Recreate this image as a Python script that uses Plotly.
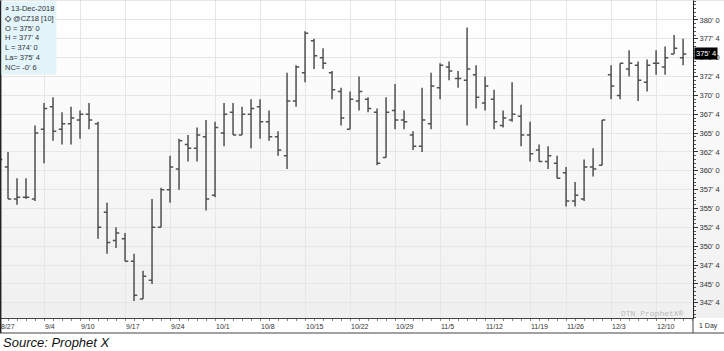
import plotly.graph_objects as go

# ---------------- data (Dec-18 corn, daily bars, cents/bu) ----------------
dates = [
    "8/27", "8/28", "8/29", "8/30", "8/31",
    "9/4", "9/5", "9/6", "9/7",
    "9/10", "9/11", "9/12", "9/13", "9/14",
    "9/17", "9/18", "9/19", "9/20", "9/21",
    "9/24", "9/25", "9/26", "9/27", "9/28",
    "10/1", "10/2", "10/3", "10/4", "10/5",
    "10/8", "10/9", "10/10", "10/11", "10/12",
    "10/15", "10/16", "10/17", "10/18", "10/19",
    "10/22", "10/23", "10/24", "10/25", "10/26",
    "10/29", "10/30", "10/31", "11/1", "11/2",
    "11/5", "11/6", "11/7", "11/8", "11/9",
    "11/12", "11/13", "11/14", "11/15", "11/16",
    "11/19", "11/20", "11/21", "11/23",
    "11/26", "11/27", "11/28", "11/29", "11/30",
    "12/3", "12/4", "12/5", "12/6", "12/7",
    "12/10", "12/11", "12/12", "12/13",
]
opens = [
    361.5, 360.5, 356.25, 356.5, 356.25,
    365.5, 368.5, 365.5, 366.25,
    366.75, 367.5, 366.25, 354.5, 350.75,
    351.0, 348.0, 343.0, 345.5, 352.5,
    357.5, 360.25, 363.5, 363.0, 364.5,
    356.75, 365.0, 367.75, 364.75, 367.5,
    368.5, 366.5, 364.5, 362.0, 369.25,
    373.0, 377.25, 375.0, 373.0, 370.5,
    365.5, 369.25, 369.5, 367.75, 361.75,
    368.0, 366.75, 364.75, 363.25, 366.25,
    371.0, 373.75, 372.25, 372.0, 372.75,
    369.0, 369.5, 366.0, 366.75, 367.25,
    364.75, 362.75, 361.25, 361.0,
    359.75, 356.0, 356.25, 360.5, 360.75,
    372.75, 370.0, 373.5, 374.0, 371.75,
    374.25, 373.75, 375.5, 375.0,
]
highs = [
    363.0, 362.5, 359.0, 359.0, 366.0,
    369.0, 369.75, 367.75, 368.5,
    368.0, 369.0, 366.5, 355.75, 352.5,
    351.75, 349.0, 346.75, 356.25, 357.75,
    362.0, 364.25, 364.75, 365.75, 366.75,
    366.5, 369.0, 369.0, 368.5, 369.5,
    369.5, 368.0, 365.25, 373.0, 374.0,
    378.5, 377.5, 376.25, 373.25, 371.0,
    370.5, 372.5, 369.75, 368.25, 369.75,
    371.5, 368.0, 365.25, 371.0, 373.0,
    374.25, 374.5, 373.25, 379.0, 374.0,
    372.5, 370.75, 368.0, 371.75, 368.75,
    366.5, 363.5, 363.25, 362.0,
    360.5, 358.5, 361.5, 363.0, 366.75,
    374.0, 374.25, 376.0, 374.5, 374.75,
    376.0, 376.5, 378.0, 377.5,
]
lows = [
    360.0, 356.25, 355.5, 356.25, 356.0,
    361.0, 364.0, 363.5, 363.5,
    364.25, 365.5, 351.0, 349.0, 349.75,
    348.0, 342.75, 343.0, 345.0, 352.5,
    355.75, 357.5, 361.25, 361.25, 354.75,
    356.5, 363.25, 364.75, 364.75, 363.0,
    364.25, 364.0, 362.0, 360.25, 368.5,
    371.75, 373.5, 373.5, 369.5, 366.0,
    365.5, 368.0, 367.75, 360.75, 361.75,
    365.5, 365.5, 362.75, 362.5, 365.5,
    369.5, 372.0, 371.0, 366.0, 368.25,
    368.0, 365.5, 365.75, 366.5, 363.25,
    361.25, 361.25, 360.25, 359.0,
    355.25, 355.25, 356.0, 359.25, 360.75,
    369.5, 369.5, 372.5, 369.25, 370.5,
    372.75, 372.75, 375.5, 374.0,
]
closes = [
    361.5, 356.25, 356.5, 356.5, 365.0,
    368.25, 365.25, 366.25, 367.0,
    367.5, 366.75, 352.5, 350.5, 351.75,
    348.0, 343.5, 346.0, 352.5, 357.5,
    360.5, 364.0, 363.0, 364.75, 356.25,
    365.75, 367.5, 364.75, 367.5, 368.25,
    366.5, 364.5, 362.75, 369.25, 373.75,
    378.25, 375.25, 374.25, 370.75, 367.0,
    369.5, 370.5, 368.25, 361.0, 367.75,
    366.75, 366.5, 363.25, 366.75, 371.25,
    374.0, 373.25, 372.25, 373.5, 369.75,
    371.25, 366.5, 367.0, 367.5, 364.75,
    362.25, 361.25, 362.0, 359.0,
    356.0, 356.75, 360.5, 360.25, 366.75,
    371.25, 374.25, 374.25, 372.0, 374.0,
    374.25, 375.0, 376.25, 375.5,
]
week_labels = ["8/27", "9/4", "9/10", "9/17", "9/24", "10/1", "10/8", "10/15",
               "10/22", "10/29", "11/5", "11/12", "11/19", "11/26", "12/3", "12/10"]
price_ticks = [342.5 + 2.5 * k for k in range(16)]
legend_lines = ["⌕ 13-Dec-2018", "<b>◇</b> @CZ18 [10]", "O = 375' 0", "H = 377' 4",
                "L = 374' 0", "La= 375' 4", "NC= -0' 6"]
last_price = 375.5


def fmt_price(v):
    whole = int(v)
    eighths = int(round((v - whole) * 8))
    return f"{whole}' {eighths}"


x_idx = list(range(len(dates)))
week_pos = [dates.index(w) for w in week_labels]

W, H = 724, 351
ML, MR, MT, MB = 0, 31, 0, 33
PW, PH = W - ML - MR, H - MT - MB
X0, X1 = 0.11, 77.1
UNIT = PW / (X1 - X0)


def px_x(p):  # pixel -> paper x
    return p / PW


def px_y(p):  # pixel from top -> paper y
    return 1 - p / PH


fig = go.Figure()
fig.add_trace(go.Ohlc(
    x=x_idx, open=opens, high=highs, low=lows, close=closes,
    increasing=dict(line=dict(color="#505050", width=1.5)),
    decreasing=dict(line=dict(color="#505050", width=1.5)),
    tickwidth=0.36, hoverinfo="skip", showlegend=False,
))

shapes = []
# subtle vertical gradient background (white top -> light grey bottom)
N = 40
for i in range(N):
    t = i / (N - 1)
    g = int(round(240 + (255 - 240) * t))
    shapes.append(dict(type="rect", xref="paper", yref="paper",
                       x0=0, x1=px_x(W), y0=i / N, y1=(i + 1) / N,
                       fillcolor=f"rgb({g},{g},{g})", line=dict(width=0), layer="below"))
# left border, strip bottom line, right axis extension through strip
shapes.append(dict(type="line", xref="paper", yref="paper", x0=0.001, x1=0.001, y0=px_y(PH + 15), y1=1,
                   line=dict(color="#222", width=1.5)))
shapes.append(dict(type="line", xref="paper", yref="paper", x0=0, x1=px_x(W), y0=px_y(PH + 15), y1=px_y(PH + 15),
                   line=dict(color="#444", width=1)))
shapes.append(dict(type="line", xref="paper", yref="paper", x0=1, x1=1, y0=px_y(PH + 15), y1=0,
                   line=dict(color="#444", width=1)))
shapes.append(dict(type="line", xref="paper", yref="paper", x0=0, x1=px_x(W), y0=1, y1=1,
                   line=dict(color="#cfcfcf", width=1)))

annotations = []
for w, p in zip(week_labels, week_pos):
    xa = max(p, X0 + 0.01)          # keep inside range so the label is drawn
    shift = (p - xa) * UNIT - 1     # restore true tick position in pixels
    if p < X0:
        shift = max(shift, -(X0 + 0.01 - X0) * UNIT - 1)  # keep first label inside the page
    annotations.append(dict(x=xa, xref="x", y=px_y(PH + 8), yref="paper", text=w,
                            showarrow=False, xanchor="left", yanchor="middle", xshift=shift,
                            font=dict(family="Liberation Sans", size=7, color="#333")))
annotations.append(dict(x=px_x(PW + 15), xref="paper", y=px_y(PH + 8), yref="paper", text="1 Day",
                        showarrow=False, xanchor="center", yanchor="middle",
                        font=dict(family="Liberation Sans", size=7, color="#333")))
annotations.append(dict(x=1, xref="paper", y=last_price, yref="y", text=fmt_price(last_price),
                        showarrow=False, xanchor="left", yanchor="middle", xshift=1,
                        bgcolor="#000", borderpad=1,
                        font=dict(family="Liberation Sans", size=7.5, color="#fff")))
annotations.append(dict(x=px_x(PW - 7), xref="paper", y=px_y(PH - 5), yref="paper", text="DTN ProphetX®",
                        showarrow=False, xanchor="right", yanchor="middle",
                        font=dict(family="Liberation Mono", size=8, color="#b8b8b8")))
annotations.append(dict(x=0.001, xref="paper", y=px_y(PH + 24), yref="paper",
                        text="<i>Source: Prophet X</i>", showarrow=False,
                        xanchor="left", yanchor="middle",
                        font=dict(family="Liberation Sans", size=13, color="#111")))
annotations.append(dict(x=0.002, xref="paper", y=0.998, yref="paper",
                        text="<br>".join(legend_lines), showarrow=False, align="left",
                        xanchor="left", yanchor="top", bgcolor="#e3f5fb", borderpad=2,
                        font=dict(family="Liberation Sans", size=7.5, color="#333")))

fig.update_layout(
    width=W, height=H,
    margin=dict(l=ML, r=MR, t=MT, b=MB, pad=0),
    paper_bgcolor="#ffffff", plot_bgcolor="rgba(0,0,0,0)",
    shapes=shapes, annotations=annotations, showlegend=False,
    xaxis=dict(
        range=[X0, X1], rangeslider=dict(visible=False),
        tickmode="array", tickvals=week_pos, ticktext=[""] * len(week_pos),
        showticklabels=False, ticks="outside", ticklen=15, tickcolor="#b5b5b5", tickwidth=1,
        showgrid=True, gridcolor="#e6e6e6", gridwidth=1, zeroline=False,
        showline=True, linecolor="#444", linewidth=1,
        minor=dict(tickmode="linear", tick0=0, dtick=1, ticks="outside", ticklen=2,
                   tickcolor="#888", showgrid=False),
    ),
    yaxis=dict(
        side="right", range=[340.48, 382.65],
        tickmode="array", tickvals=price_ticks, ticktext=[fmt_price(v) for v in price_ticks],
        ticks="outside", ticklen=4, tickcolor="#333",
        tickfont=dict(family="Liberation Sans", size=7.5, color="#333"),
        showgrid=True, gridcolor="#e6e6e6", gridwidth=1, zeroline=False,
        showline=True, linecolor="#222", linewidth=1,
        minor=dict(tickmode="linear", tick0=340, dtick=0.5, ticks="outside", ticklen=2,
                   tickcolor="#555", showgrid=False),
    ),
)

fig.write_html("out.html")
